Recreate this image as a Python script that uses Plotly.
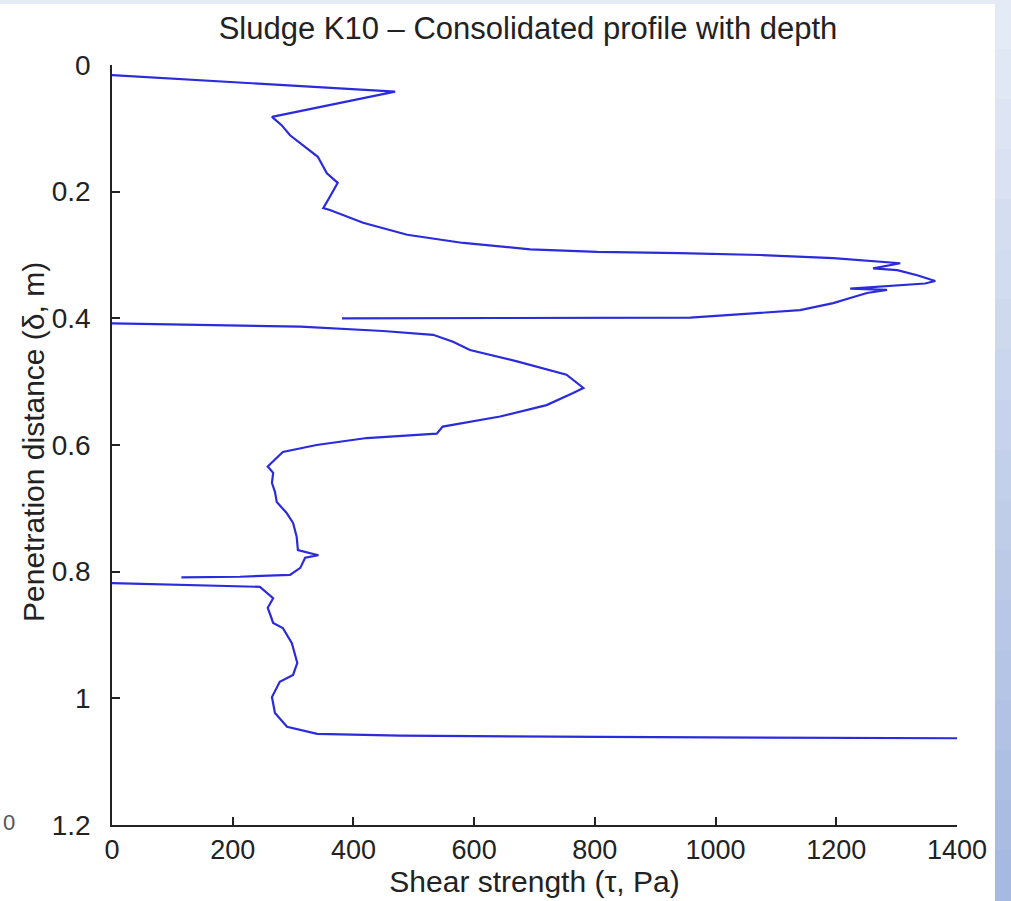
import plotly.graph_objects as go

# Segment 1 (first push, 0 - 0.4 m)
seg1_tau = [0, 469, 265, 281, 295, 341, 356, 374, 361, 350, 361, 416, 489, 582, 693, 804, 941, 1074,
            1195, 1306, 1261, 1301, 1334, 1364, 1347, 1278, 1223, 1284, 1251, 1223, 1195, 1140, 958, 643, 381]
seg1_depth = [0.016, 0.042, 0.082, 0.095, 0.111, 0.145, 0.171, 0.186, 0.208, 0.226, 0.229, 0.249, 0.268,
              0.281, 0.291, 0.295, 0.297, 0.300, 0.305, 0.313, 0.321, 0.324, 0.332, 0.341, 0.345, 0.350,
              0.353, 0.355, 0.360, 0.368, 0.376, 0.387, 0.399, 0.3995, 0.400]

# Segment 2 (0.4 - 0.82 m)
seg2_tau = [0, 312, 449, 532, 565, 593, 671, 753, 781, 764, 720, 643, 548, 538, 422, 339, 283, 258, 267,
            265, 270, 273, 289, 300, 306, 308, 342, 320, 312, 295, 212, 115]
seg2_depth = [0.408, 0.413, 0.420, 0.426, 0.437, 0.450, 0.468, 0.489, 0.510, 0.518, 0.537, 0.555, 0.571,
              0.582, 0.589, 0.600, 0.611, 0.634, 0.644, 0.660, 0.674, 0.690, 0.707, 0.723, 0.745, 0.766,
              0.774, 0.778, 0.794, 0.805, 0.808, 0.809]

# Segment 3 (0.82 - 1.07 m)
seg3_tau = [0, 146, 245, 267, 258, 263, 267, 283, 298, 307, 300, 278, 265, 270, 290, 340, 477, 809, 1400]
seg3_depth = [0.818, 0.821, 0.824, 0.842, 0.857, 0.870, 0.881, 0.889, 0.913, 0.944, 0.963, 0.974, 0.998,
              1.023, 1.045, 1.056, 1.059, 1.061, 1.063]

x_ticks = [0, 200, 400, 600, 800, 1000, 1200, 1400]
y_ticks = [0, 0.2, 0.4, 0.6, 0.8, 1.0, 1.2]
y_tick_text = ["0", "0.2", "0.4", "0.6", "0.8", "1", "1.2"]

line_color = "#2b2bdc"
FONT = "Liberation Sans, Arial, Helvetica, sans-serif"
TXT = "#222222"

W, H = 1011, 901
L, R, T, B = 112, 54, 65, 76
PW, PH = W - L - R, H - T - B

fig = go.Figure()
for tau, depth in [(seg1_tau, seg1_depth), (seg2_tau, seg2_depth), (seg3_tau, seg3_depth)]:
    fig.add_trace(go.Scatter(x=tau, y=depth, mode="lines",
                             line=dict(color=line_color, width=2.2), showlegend=False,
                             hoverinfo="skip"))

def px_x(p):
    return (p - L) / PW

def px_y(p):
    return 1 - (p - T) / PH

# right decorative band (gradient approximation from light to deeper blue)
c0, c1 = (228, 234, 246), (166, 185, 224)
n = 18
shapes = []
for i in range(n):
    f = i / (n - 1)
    c = tuple(round(a + (b - a) * f) for a, b in zip(c0, c1))
    shapes.append(dict(type="rect", xref="paper", yref="paper",
                       x0=px_x(995), x1=px_x(1015),
                       y0=px_y(H * (i + 1) / n + 1), y1=px_y(H * i / n - 1),
                       fillcolor="rgb(%d,%d,%d)" % c, line=dict(width=0), layer="below"))
shapes.append(dict(type="rect", xref="paper", yref="paper",
                   x0=px_x(-5), x1=px_x(995), y0=px_y(4), y1=px_y(-5),
                   fillcolor="#e6ecf6", line=dict(width=0), layer="below"))

fig.update_layout(
    width=W, height=H,
    margin=dict(l=L, r=R, t=T, b=B),
    paper_bgcolor="white", plot_bgcolor="white",
    font=dict(family=FONT, color=TXT),
    title=dict(text="Sludge K10 \u2013 Consolidated profile with depth",
               x=528 / W, xanchor="center", y=1 - 28 / H, yanchor="middle",
               font=dict(size=31, color=TXT, family=FONT)),
    xaxis=dict(range=[0, 1400], tickvals=x_ticks, ticks="inside", ticklen=8, tickwidth=1.5,
               tickcolor=TXT, showline=True, linecolor=TXT, linewidth=1.5,
               showgrid=False, zeroline=False, mirror=False,
               tickfont=dict(size=27, family=FONT, color=TXT),
               title=dict(text="Shear strength (\u03c4, Pa)", font=dict(size=30, family=FONT, color=TXT),
                          standoff=0)),
    yaxis=dict(range=[1.2, 0], tickvals=y_ticks, ticktext=y_tick_text, ticks="inside", ticklen=8,
               tickwidth=1.5, tickcolor=TXT, showline=True, linecolor=TXT, linewidth=1.5,
               showgrid=False, zeroline=False, mirror=False, ticklabelstandoff=14,
               tickfont=dict(size=28, family=FONT, color=TXT)),
    shapes=shapes,
    annotations=[
        dict(text="Penetration distance (\u03b4, m)", xref="paper", yref="paper",
             x=px_x(34), y=px_y(442), xanchor="center", yanchor="middle", textangle=-90,
             showarrow=False, font=dict(size=30, family=FONT, color=TXT)),
        dict(text="0", xref="paper", yref="paper", x=px_x(9), y=px_y(822),
             xanchor="center", yanchor="middle", showarrow=False,
             font=dict(size=22, family=FONT, color="#555555")),
    ],
)

fig.write_html("out.html", config={"displayModeBar": False},
               post_script="document.body.style.margin='0';document.body.style.overflow='hidden';")
